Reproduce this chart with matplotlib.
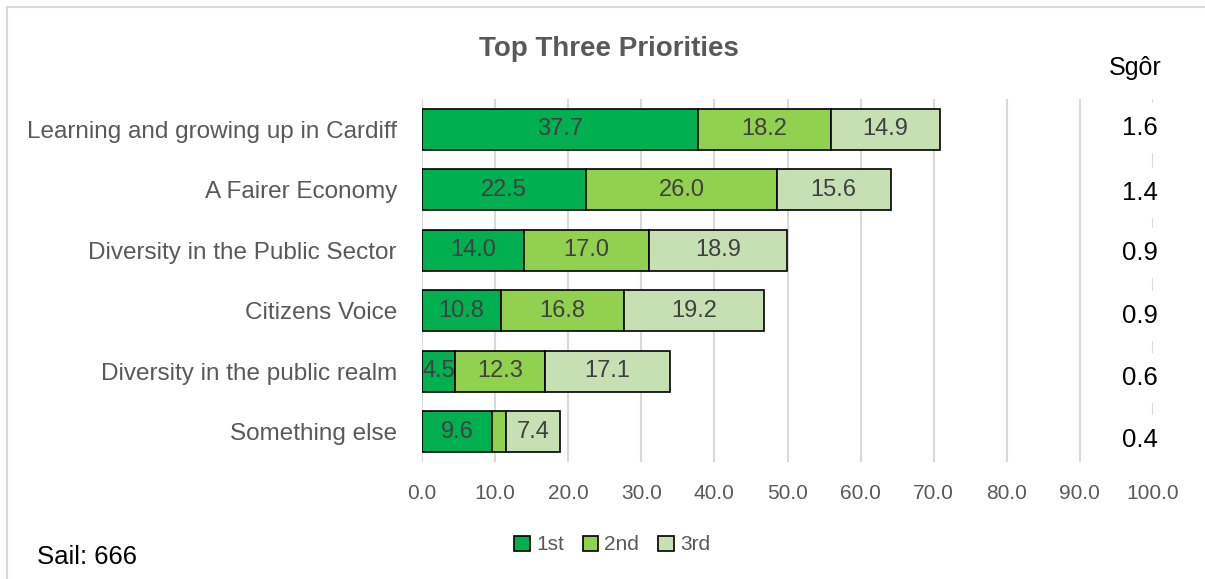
import numpy as np
import matplotlib
matplotlib.use('Agg')
import matplotlib.pyplot as plt

plt.rcParams['font.family'] = ['Liberation Sans', 'DejaVu Sans']

# data
categories = ['Learning and growing up in Cardiff', 'A Fairer Economy',
              'Diversity in the Public Sector', 'Citizens Voice',
              'Diversity in the public realm', 'Something else']
first = [37.7, 22.5, 14.0, 10.8, 4.5, 9.6]
second = [18.2, 26.0, 17.0, 16.8, 12.3, 1.9]
third = [14.9, 15.6, 18.9, 19.2, 17.1, 7.4]
scores = ['1.6', '1.4', '0.9', '0.9', '0.6', '0.4']
series_names = ['1st', '2nd', '3rd']
colors = ['#00B050', '#92D050', '#C6E0B4']

fig = plt.figure(figsize=(12.05, 5.79), dpi=100)
ax = fig.add_axes([422 / 1205, 1 - 462 / 579, (1153 - 422) / 1205, 363 / 579])

y = np.arange(len(categories))
left = np.zeros(len(categories))
for vals, col, name in zip([first, second, third], colors, series_names):
    bars = ax.barh(y, vals, left=left, height=0.68, color=col,
                   edgecolor='black', linewidth=1.2, label=name, zorder=3)
    for b, v in zip(bars, vals):
        if v >= 3:
            ax.text(b.get_x() + b.get_width() / 2, b.get_y() + b.get_height() / 2,
                    '%.1f' % v, ha='center', va='center', fontsize=17,
                    color='#404040', zorder=4)
    left += np.array(vals)

ax.set_xlim(0, 100)
ax.set_ylim(len(categories) - 0.5, -0.5)
ax.set_xticks(np.arange(0, 101, 10))
ax.set_xticklabels(['%.1f' % t for t in np.arange(0, 101, 10)])
ax.set_yticks(y)
ax.set_yticklabels(categories)
ax.tick_params(axis='x', length=0, labelsize=15, labelcolor='#595959', pad=16)
ax.tick_params(axis='y', length=0, labelsize=17.5, labelcolor='#595959', pad=18)
ax.grid(axis='x', color='#D9D9D9', linewidth=1.5, zorder=0)
for s in ax.spines.values():
    s.set_visible(False)

# score column
fig.text(1135 / 1205, 1 - 68 / 579, 'Sgôr', ha='center', va='center',
         fontsize=18, color='black')
score_y = [128, 193, 253, 316, 378, 440]
for sc, yy in zip(scores, score_y):
    fig.text(1140 / 1205, 1 - yy / 579, sc, ha='center', va='center',
             fontsize=18.5, color='black',
             bbox=dict(facecolor='white', edgecolor='none', pad=9))

title = ax.set_title('Top Three Priorities', fontsize=20, fontweight='bold',
                     color='#595959', pad=0, y=1 + 43 / 363)
title.set_x(0.5 - (787 - 608) / 731)

fig.legend(loc='center', bbox_to_anchor=(612 / 1205, 1 - 545 / 579), ncol=3,
           frameon=False, fontsize=15, handlelength=0.75, handleheight=0.75,
           handletextpad=0.3, columnspacing=0.9, labelcolor='#595959')

fig.text(37 / 1205, 1 - 557 / 579, 'Sail: 666', ha='left', va='center',
         fontsize=18.5, color='black')

# chart frame (only top and left visible)
fig.add_artist(plt.Line2D([6.5 / 1205, 6.5 / 1205], [0, 1 - 7 / 579],
                          color='#D9D9D9', linewidth=1.5))
fig.add_artist(plt.Line2D([6.5 / 1205, 1], [1 - 7 / 579, 1 - 7 / 579],
                          color='#D9D9D9', linewidth=1.5))

plt.savefig('out.png', dpi=100)
